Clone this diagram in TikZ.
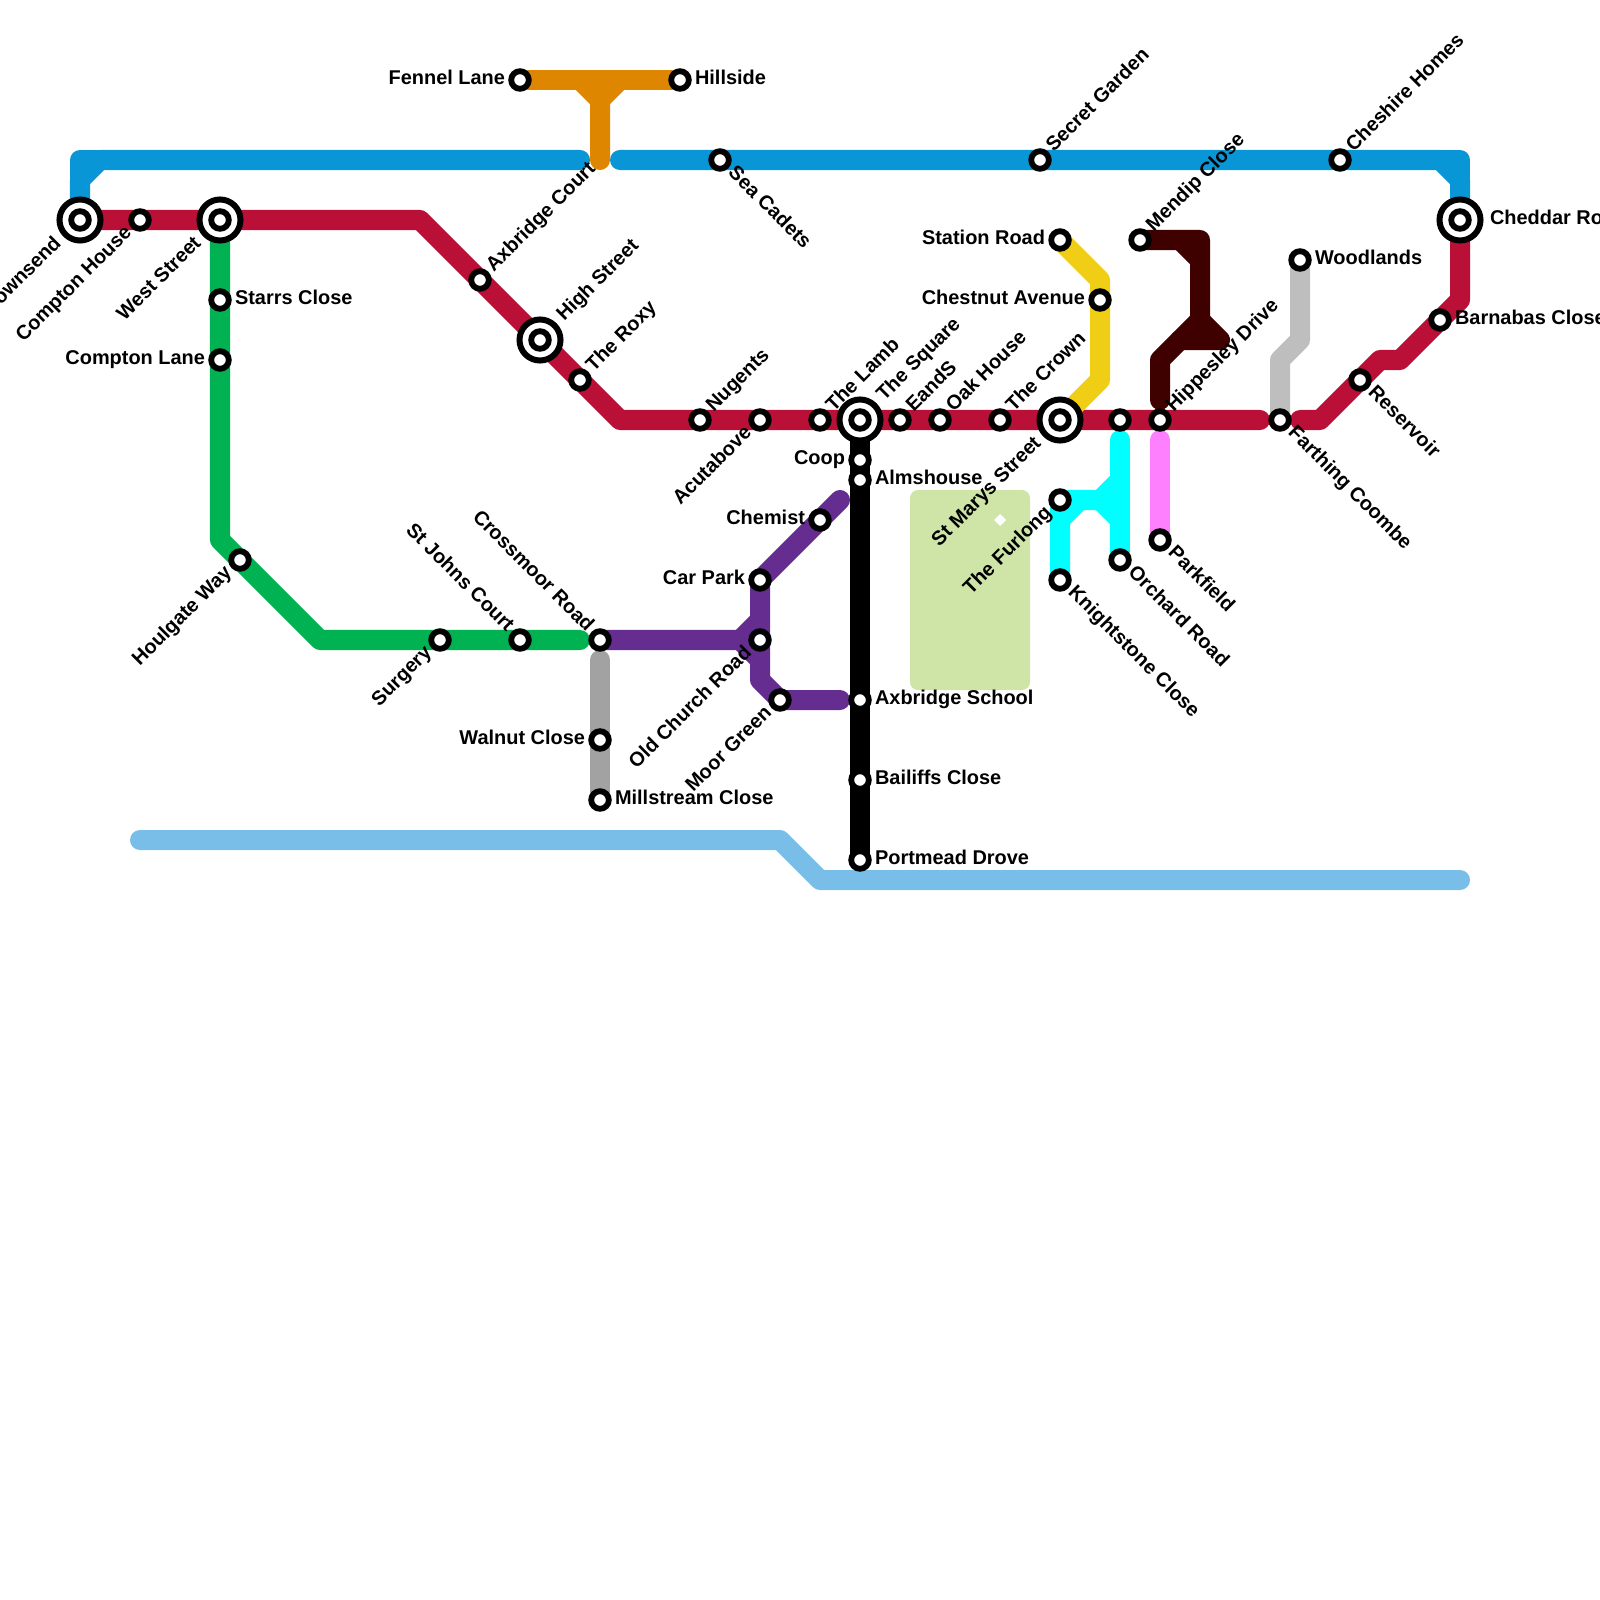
\documentclass[tikz,border=0pt]{standalone}
\usepackage{fontspec}
\setmainfont{Liberation Sans}
\usetikzlibrary{backgrounds}
\definecolor{lineblue}{HTML}{0896D7}
\definecolor{linered}{HTML}{BA1037}
\definecolor{linegreen}{HTML}{00B251}
\definecolor{lineorange}{HTML}{DF8600}
\definecolor{linepurple}{HTML}{662D91}
\definecolor{linegrey}{HTML}{A2A2A2}
\definecolor{linesilver}{HTML}{BEBEBE}
\definecolor{linesky}{HTML}{79BDE9}
\definecolor{lineyellow}{HTML}{F0CE15}
\definecolor{linecyan}{HTML}{00FFFF}
\definecolor{linepink}{HTML}{FF80FF}
\definecolor{linemaroon}{HTML}{3F0000}
\definecolor{parkgreen}{HTML}{CFE4A7}
\tikzstyle{metro} = [
    line width=0.2cm,
    line cap=round,
    line join=round
]
\tikzstyle{station} = [
    circle,
    inner sep=0pt,
    outer sep=0pt,
    minimum size=0.176cm,
    line width=0.058cm,
    draw=black,
    fill=white
]
\tikzstyle{interchange} = [
    circle,
    inner sep=0pt,
    outer sep=0pt,
    minimum size=0.41cm,
    line width=0.06cm,
    draw=black,
    fill=white
]
\tikzstyle{stationtext} = [
    font=\bfseries\fontsize{5.67}{7}\selectfont,
    text=black,
    text height=0.13cm,
    text depth=0.04cm,
    inner ysep=0pt,
    inner xsep=0.15cm,
    outer sep=0pt
]
\tikzstyle{textE} = [stationtext, anchor=west]
\tikzstyle{textW} = [stationtext, anchor=east]
\tikzstyle{textNE} = [stationtext, anchor=west, rotate=45]
\tikzstyle{textSW} = [stationtext, anchor=east, rotate=45]
\tikzstyle{textSE} = [stationtext, anchor=west, rotate=-45]
\tikzstyle{textNW} = [stationtext, anchor=east, rotate=-45]
\tikzstyle{far} = [inner xsep=0.3cm]
\begin{document}
\begin{tikzpicture}[x=0.01cm,y=-0.01cm]
\useasboundingbox (0,0) rectangle (1600,1600);

\node (townsendring) [interchange] at (80,220) {};
\node (townsend) [station] at (townsendring) {};
\node (townsendtext) [textSW, far] at (townsend) {Townsend};
\node (comptonhouse) [station] at (140,220) {};
\node (comptonhousetext) [textSW] at (comptonhouse) {Compton House};
\node (weststreetring) [interchange] at (220,220) {};
\node (weststreet) [station] at (weststreetring) {};
\node (weststreettext) [textSW, far] at (weststreet) {West Street};
\node (starrsclose) [station] at (220,300) {};
\node (starrsclosetext) [textE] at (starrsclose) {Starrs Close};
\node (comptonlane) [station] at (220,360) {};
\node (comptonlanetext) [textW] at (comptonlane) {Compton Lane};
\node (houlgateway) [station] at (240,560) {};
\node (houlgatewaytext) [textSW] at (houlgateway) {Houlgate Way};
\node (surgery) [station] at (440,640) {};
\node (surgerytext) [textSW] at (surgery) {Surgery};
\node (stjohnscourt) [station] at (520,640) {};
\node (stjohnscourttext) [textNW] at (stjohnscourt) {St Johns Court};
\node (crossmoorroad) [station] at (600,640) {};
\node (crossmoorroadtext) [textNW] at (crossmoorroad) {Crossmoor Road};
\node (walnutclose) [station] at (600,740) {};
\node (walnutclosetext) [textW] at (walnutclose) {Walnut Close};
\node (millstreamclose) [station] at (600,800) {};
\node (millstreamclosetext) [textE] at (millstreamclose) {Millstream Close};
\node (axbridgecourt) [station] at (480,280) {};
\node (axbridgecourttext) [textNE] at (axbridgecourt) {Axbridge Court};
\node (highstreetring) [interchange] at (540,340) {};
\node (highstreet) [station] at (highstreetring) {};
\node (highstreettext) [textNE, far] at (highstreet) {High Street};
\node (theroxy) [station] at (580,380) {};
\node (theroxytext) [textNE] at (theroxy) {The Roxy};
\node (nugents) [station] at (700,420) {};
\node (nugentstext) [textNE] at (nugents) {Nugents};
\node (acutabove) [station] at (760,420) {};
\node (acutabovetext) [textSW] at (acutabove) {Acutabove};
\node (thelamb) [station] at (820,420) {};
\node (thelambtext) [textNE] at (thelamb) {The Lamb};
\node (thesquarering) [interchange] at (860,420) {};
\node (thesquare) [station] at (thesquarering) {};
\node (thesquaretext) [textNE, far] at (thesquare) {The Square};
\node (eands) [station] at (900,420) {};
\node (eandstext) [textNE] at (eands) {EandS};
\node (oakhouse) [station] at (940,420) {};
\node (oakhousetext) [textNE] at (oakhouse) {Oak House};
\node (thecrown) [station] at (1000,420) {};
\node (thecrowntext) [textNE] at (thecrown) {The Crown};
\node (stmarysring) [interchange] at (1060,420) {};
\node (stmarys) [station] at (stmarysring) {};
\node (stmarystext) [textSW, far] at (stmarys) {St Marys Street};
\node (orchardjunction) [station] at (1120,420) {};
\node (hippesley) [station] at (1160,420) {};
\node (hippesleytext) [textNE] at (hippesley) {Hippesley Drive};
\node (farthing) [station] at (1280,420) {};
\node (farthingtext) [textSE] at (farthing) {Farthing Coombe};
\node (reservoir) [station] at (1360,380) {};
\node (reservoirtext) [textSE] at (reservoir) {Reservoir};
\node (barnabas) [station] at (1440,320) {};
\node (barnabastext) [textE] at (barnabas) {Barnabas Close};
\node (cheddarring) [interchange] at (1460,220) {};
\node (cheddar) [station] at (cheddarring) {};
\node (cheddartext) [textE, far] at (cheddar) {Cheddar Road};
\node (woodlands) [station] at (1300,260) {};
\node (woodlandstext) [textE] at (woodlands) {Woodlands};
\node (cheshire) [station] at (1340,160) {};
\node (cheshiretext) [textNE] at (cheshire) {Cheshire Homes};
\node (mendip) [station] at (1140,240) {};
\node (mendiptext) [textNE] at (mendip) {Mendip Close};
\node (secretgarden) [station] at (1040,160) {};
\node (secretgardentext) [textNE] at (secretgarden) {Secret Garden};
\node (seacadets) [station] at (720,160) {};
\node (seacadetstext) [textSE] at (seacadets) {Sea Cadets};
\node (stationroad) [station] at (1060,240) {};
\node (stationroadtext) [textW] at (stationroad) {Station Road};
\node (chestnut) [station] at (1100,300) {};
\node (chestnuttext) [textW] at (chestnut) {Chestnut Avenue};
\node (coop) [station] at (860,460) {};
\node (cooptext) [textW] at (coop) {Coop};
\node (almshouse) [station] at (860,480) {};
\node (almshousetext) [textE] at (almshouse) {Almshouse};
\node (axbridgeschool) [station] at (860,700) {};
\node (axbridgeschooltext) [textE] at (axbridgeschool) {Axbridge School};
\node (bailiffs) [station] at (860,780) {};
\node (bailiffstext) [textE] at (bailiffs) {Bailiffs Close};
\node (portmead) [station] at (860,860) {};
\node (portmeadtext) [textE] at (portmead) {Portmead Drove};
\node (chemist) [station] at (820,520) {};
\node (chemisttext) [textW] at (chemist) {Chemist};
\node (carpark) [station] at (760,580) {};
\node (carparktext) [textW] at (carpark) {Car Park};
\node (oldchurch) [station] at (760,640) {};
\node (oldchurchtext) [textSW] at (oldchurch) {Old Church Road};
\node (moorgreen) [station] at (780,700) {};
\node (moorgreentext) [textSW] at (moorgreen) {Moor Green};
\node (furlong) [station] at (1060,500) {};
\node (furlongtext) [textSW] at (furlong) {The Furlong};
\node (knightstone) [station] at (1060,580) {};
\node (knightstonetext) [textSE] at (knightstone) {Knightstone Close};
\node (orchard) [station] at (1120,560) {};
\node (orchardtext) [textSE] at (orchard) {Orchard Road};
\node (parkfield) [station] at (1160,540) {};
\node (parkfieldtext) [textSE] at (parkfield) {Parkfield};
\node (fennel) [station] at (520,80) {};
\node (fenneltext) [textW] at (fennel) {Fennel Lane};
\node (hillside) [station] at (680,80) {};
\node (hillsidetext) [textE] at (hillside) {Hillside};

\coordinate (bluewest) at (580,160);
\coordinate (blueeast) at (620,160);
\coordinate (orangefoot) at (600,160);
\coordinate (redwest) at (1260,420);
\coordinate (redeast) at (1300,420);
\coordinate (greenend) at (580,640);
\coordinate (greytop) at (600,660);
\coordinate (blackend) at (860,860);
\coordinate (purpletop) at (840,500);
\coordinate (purpleend) at (840,700);
\coordinate (skywest) at (140,840);
\coordinate (skyeast) at (1460,880);
\coordinate (cyantop) at (1120,440);
\coordinate (pinktop) at (1160,440);
\coordinate (maroonend) at (1160,400);

\begin{scope}[on background layer]
\fill [parkgreen, rounded corners=0.08cm] (910,490) rectangle (1030,690);
\fill [white] (1000,514) -- (1006,520) -- (1000,526) -- (994,520) -- cycle;

\draw [metro, lineblue] (townsend.center) -- (80,180) -- (100,160) -- (bluewest);
\draw [metro, lineblue] (80,180) -- (80,160) -- (100,160);
\draw [metro, lineblue] (blueeast) -- (1440,160) -- (1460,180) -- (cheddar.center);
\draw [metro, lineblue] (1440,160) -- (1460,160) -- (1460,180);

\draw [metro, linered] (townsend.center) -- (420,220) -- (620,420) -- (redwest);
\draw [metro, linered] (redeast) -- (1320,420) -- (1380,360) -- (1400,360) -- (1460,300) -- (cheddar.center);

\draw [metro, linegreen] (weststreet.center) -- (220,540) -- (320,640) -- (greenend);

\draw [metro, lineorange] (fennel.center) -- (hillside.center);
\draw [metro, lineorange] (orangefoot) -- (600,100) -- (580,80);
\draw [metro, lineorange] (600,100) -- (620,80);

\draw [metro, linegrey] (greytop) -- (millstreamclose.center);

\draw [metro, linepurple] (crossmoorroad.center) -- (740,640) -- (760,620);
\draw [metro, linepurple] (740,640) -- (760,660);
\draw [metro, linepurple] (purpletop) -- (carpark.center) -- (760,680) -- (moorgreen.center) -- (purpleend);

\draw [metro, black] (thesquare.center) -- (blackend);

\draw [metro, linesky] (skywest) -- (780,840) -- (820,880) -- (skyeast);

\draw [metro, lineyellow] (stationroad.center) -- (1100,280) -- (1100,380) -- (stmarys.center);

\draw [metro, linecyan] (cyantop) -- (orchard.center);
\draw [metro, linecyan] (knightstone.center) -- (furlong.center) -- (1100,500) -- (1120,480);
\draw [metro, linecyan] (1100,500) -- (1120,520);
\draw [metro, linecyan] (1060,520) -- (1080,500);

\draw [metro, linepink] (pinktop) -- (parkfield.center);

\draw [metro, linemaroon] (maroonend) -- (1160,360) -- (1200,320) -- (1200,240) -- (mendip.center);
\draw [metro, linemaroon] (1180,240) -- (1200,260);
\draw [metro, linemaroon] (1200,320) -- (1220,340) -- (1180,340);

\draw [metro, linesilver] (woodlands.center) -- (1300,340) -- (1280,360) -- (farthing.center);
\end{scope}

\end{tikzpicture}
\end{document}
